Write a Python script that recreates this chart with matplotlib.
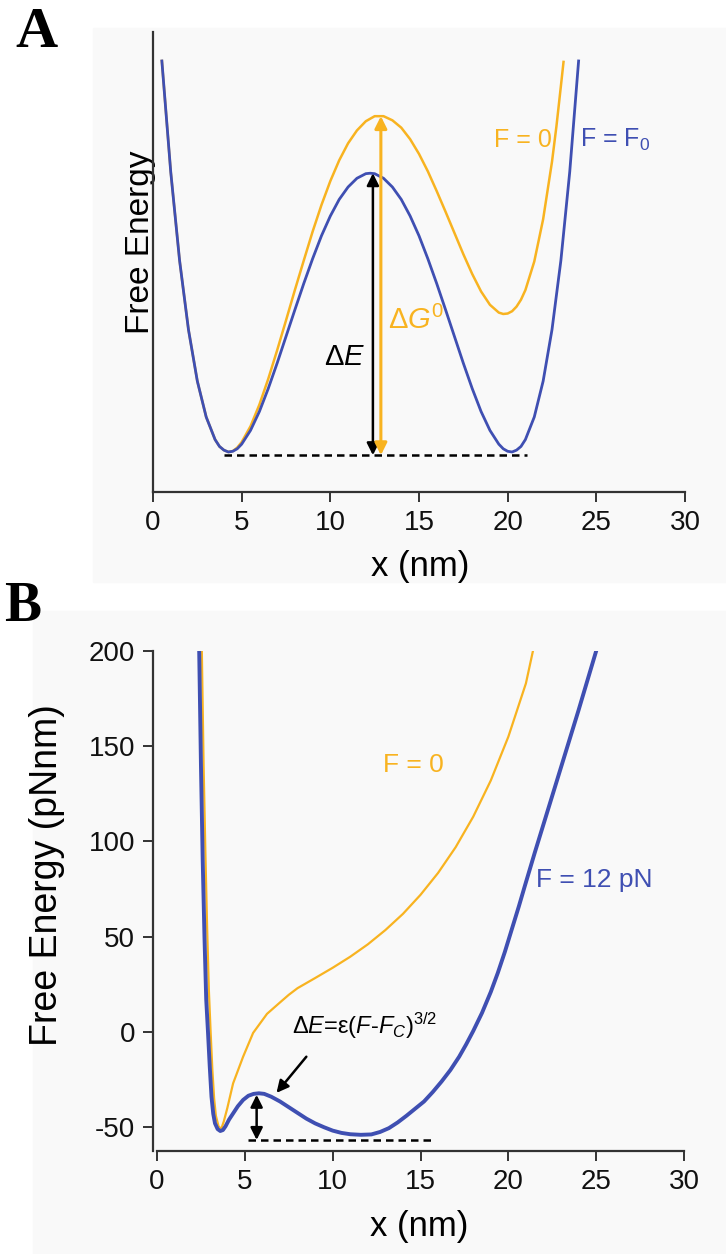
import matplotlib
matplotlib.use("Agg")
import matplotlib.pyplot as plt
from matplotlib.patches import Rectangle

plt.rcParams["font.family"] = ["Liberation Sans", "DejaVu Sans"]
plt.rcParams["mathtext.fontset"] = "custom"
plt.rcParams["mathtext.rm"] = "Liberation Sans"
plt.rcParams["mathtext.it"] = "Liberation Sans:italic"
plt.rcParams["mathtext.bf"] = "Liberation Sans:bold"
plt.rcParams["axes.unicode_minus"] = False

ORANGE = "#F8B320"
BLUE = "#3F4FB2"
BG = "#F9F9F9"
AXC = "#333333"

# Panel A: arbitrary energy units
a_blue_x = [0.5, 1, 1.5, 2, 2.5, 3, 3.5, 3.75, 4, 4.25, 4.5, 4.75, 5, 5.5, 6, 6.5,
            7, 7.5, 8, 8.5, 9, 9.5, 10, 10.5, 11, 11.5, 12, 12.25, 12.5, 13, 13.5,
            14, 14.5, 15, 15.5, 16, 16.5, 17, 17.5, 18, 18.5, 19, 19.5, 19.75, 20,
            20.25, 20.5, 20.75, 21, 21.5, 22, 22.5, 23, 23.5, 24]
a_blue_e = [93.7, 69.6, 50.3, 35.3, 24.1, 16.3, 11.4, 9.9, 9.1, 8.7, 8.85, 9.4, 10.4,
            13.4, 17.5, 22.5, 28.0, 33.8, 39.6, 45.3, 50.7, 55.7, 60.0, 63.6, 66.3,
            68.2, 69.2, 69.3, 69.2, 68.2, 66.3, 63.6, 60.0, 55.7, 50.7, 45.3, 39.6,
            33.8, 28.0, 22.5, 17.5, 13.4, 10.4, 9.4, 8.85, 8.7, 9.1, 9.9, 11.4, 16.3,
            24.1, 35.3, 50.3, 69.6, 93.7]
a_orange_x = [0.5, 1, 1.5, 2, 2.5, 3, 3.5, 3.75, 4, 4.25, 4.5, 4.75, 5, 5.5, 6, 6.5,
              7, 7.5, 8, 8.5, 9, 9.5, 10, 10.5, 11, 11.5, 12, 12.5, 13, 13.5, 14,
              14.5, 15, 15.5, 16, 16.5, 17, 17.5, 18, 18.5, 19, 19.5, 19.75, 20,
              20.25, 20.5, 20.75, 21, 21.5, 22, 22.5, 22.75, 23, 23.15]
a_orange_e = [93.7, 69.6, 50.3, 35.3, 24.1, 16.3, 11.4, 9.9, 9.1, 8.7, 8.9, 9.65,
              10.85, 14.3, 19.0, 24.6, 30.8, 37.3, 43.9, 50.3, 56.6, 62.4, 67.6,
              72.1, 75.8, 78.6, 80.6, 81.7, 81.7, 80.8, 79.2, 76.7, 73.5, 69.7, 65.4,
              60.9, 56.3, 51.7, 47.4, 43.6, 40.7, 39.0, 38.7, 38.8, 39.3, 40.3, 41.8,
              43.9, 50.1, 59.3, 71.8, 79.5, 88.2, 93.5]

# Panel B: pN nm
b_blue_x = [2.4, 2.5, 2.6, 2.7, 2.8, 2.9, 3.0, 3.1, 3.2, 3.3, 3.45, 3.6, 3.75, 3.9,
            4.1, 4.35, 4.6, 4.9, 5.2, 5.5, 5.8, 6.1, 6.5, 7.0, 7.5, 8.0, 8.5, 9.0,
            9.5, 10.0, 10.5, 11.0, 11.6, 12.2, 12.7, 13.2, 13.7, 14.2, 14.6, 15.2,
            15.7, 16.2, 16.7, 17.2, 17.6, 18.0, 18.5, 19.0, 19.4, 19.8, 20.2, 20.6,
            20.95, 21.5, 22.0, 23.0, 24.0, 25.0]
b_blue_e = [200, 140, 90, 50, 17, 0, -18, -34, -43, -48, -51, -52, -51.5, -49.5,
            -46, -42.5, -39, -35.7, -33.5, -32.5, -32.2, -32.5, -34, -36.5, -39.5,
            -42.5, -45.5, -48, -50, -51.8, -53, -53.7, -54, -53.8, -52.5, -50.5,
            -47.5, -44, -41, -36.5, -31.5, -26, -20, -13, -6.5, 0.5, 10, 21, 31,
            42, 54, 66, 77, 94, 109, 139, 169, 200]
b_orange_x = [2.55, 2.65, 2.75, 2.85, 2.95, 3.05, 3.15, 3.25, 3.35, 3.5, 3.65, 3.8,
              4.0, 4.33, 4.9, 5.47, 6.26, 7.0, 7.5, 8.0, 9.0, 10.0, 11.0, 12.0, 13.0,
              14.0, 15.0, 16.0, 17.0, 18.0, 19.0, 20.0, 21.0, 21.4]
b_orange_e = [200, 140, 95, 55, 22, 0, -20, -35, -44, -49.5, -51, -47, -40, -27,
              -13, -0.5, 9.5, 15.5, 19.5, 23, 28.3, 33.7, 39.5, 46, 53.5, 62, 72,
              83.5, 97, 113, 132, 155, 183, 200]

b_yticks = [-50, 0, 50, 100, 150, 200]
x_ticks = [0, 5, 10, 15, 20, 25, 30]

W, H = 726, 1254
fig = plt.figure(figsize=(W / 100, H / 100), dpi=100)
fig.patch.set_facecolor("white")

# gray panel backgrounds
fig.patches.append(Rectangle((93 / W, 1 - 582 / H), 633 / W, 554 / H,
                             transform=fig.transFigure, color=BG, zorder=-5))
fig.patches.append(Rectangle((33 / W, 0), 693 / W, 1 - 611 / H,
                             transform=fig.transFigure, color=BG, zorder=-5))


def box(l, t, r, b):
    return [l / W, 1 - b / H, (r - l) / W, (b - t) / H]


def style(ax):
    ax.set_facecolor("none")
    ax.spines["top"].set_visible(False)
    ax.spines["right"].set_visible(False)
    for s in ("left", "bottom"):
        ax.spines[s].set_color(AXC)
        ax.spines[s].set_linewidth(1.6)
    ax.tick_params(axis="both", length=7, width=1.4, color=AXC, labelsize=20,
                   pad=6, labelcolor="#111111")
    ax.set_xticks(x_ticks)
    ax.spines["bottom"].set_bounds(0, 30)


arrow_kw = dict(arrowstyle="<|-|>", mutation_scale=18, shrinkA=0, shrinkB=0)

# ---------------- Panel A
axA = fig.add_axes(box(153, 32, 685, 492))
style(axA)
axA.set_xlim(0, 30)
axA.set_ylim(0, 100)
axA.set_yticks([])
axA.plot(a_orange_x, a_orange_e, color=ORANGE, lw=1.8)
axA.plot(a_blue_x, a_blue_e, color=BLUE, lw=2.0)
axA.plot([4.0, 21.1], [8.0, 8.0], color="black", lw=1.8, ls=(0, (3, 2)))
axA.annotate("", xy=(12.4, 69.3), xytext=(12.4, 8.0),
             arrowprops=dict(color="black", lw=1.8, **arrow_kw))
axA.annotate("", xy=(12.85, 81.7), xytext=(12.85, 8.0),
             arrowprops=dict(color=ORANGE, lw=2.2, **arrow_kw))
axA.text(11.96, 29.3, r"$\Delta E$", ha="right", va="center", fontsize=21)
axA.text(13.25, 37.2, r"$\Delta G^0$", ha="left", va="center", fontsize=21,
         color=ORANGE)
axA.text(22.5, 76.6, "F = 0", ha="right", va="center", fontsize=18, color=ORANGE)
axA.text(24.1, 76.6, r"F = F$_0$", ha="left", va="center", fontsize=18, color=BLUE)
axA.set_xlabel("x (nm)", fontsize=25)
axA.xaxis.set_label_coords(0.502, -0.126)
axA.set_ylabel("Free Energy", fontsize=24)
axA.yaxis.set_label_coords(0.006, 0.543)

# ---------------- Panel B
axB = fig.add_axes(box(153, 651, 684, 1151))
style(axB)
axB.set_xlim(-0.23, 30)
axB.set_ylim(-62.5, 200)
axB.set_yticks(b_yticks)
axB.plot(b_orange_x, b_orange_e, color=ORANGE, lw=1.6)
axB.plot(b_blue_x, b_blue_e, color=BLUE, lw=2.8)
axB.plot([5.2, 15.7], [-56.7, -56.7], color="black", lw=1.8, ls=(0, (3, 2)))
axB.annotate("", xy=(5.67, -33), xytext=(5.67, -56.7),
             arrowprops=dict(color="black", lw=1.8, **arrow_kw))
axB.annotate("", xy=(6.8, -32), xytext=(8.5, -13),
             arrowprops=dict(arrowstyle="-|>", mutation_scale=18, color="black",
                             lw=1.8, shrinkA=0, shrinkB=0))
axB.text(7.68, 3.1, r"Δ$E$=ε($F$-$F_C$)$^{3/2}$",
         ha="left", va="center", fontsize=17)
axB.text(14.6, 140, "F = 0", ha="center", va="center", fontsize=19, color=ORANGE)
axB.text(21.6, 79.8, "F = 12 pN", ha="left", va="center", fontsize=19, color=BLUE)
axB.set_xlabel("x (nm)", fontsize=25)
axB.xaxis.set_label_coords(0.502, -0.118)
axB.set_ylabel("Free Energy (pNnm)", fontsize=27)
axB.yaxis.set_label_coords(-0.165, 0.552)

# panel letters
fig.text(36 / W, 1 - 33 / H, "A", family=["Liberation Serif", "DejaVu Serif"],
         fontweight="bold", fontsize=42, ha="center", va="center")
fig.text(23 / W, 1 - 607 / H, "B", family=["Liberation Serif", "DejaVu Serif"],
         fontweight="bold", fontsize=40, ha="center", va="center")

fig.savefig("out.png", dpi=100, facecolor="white")
